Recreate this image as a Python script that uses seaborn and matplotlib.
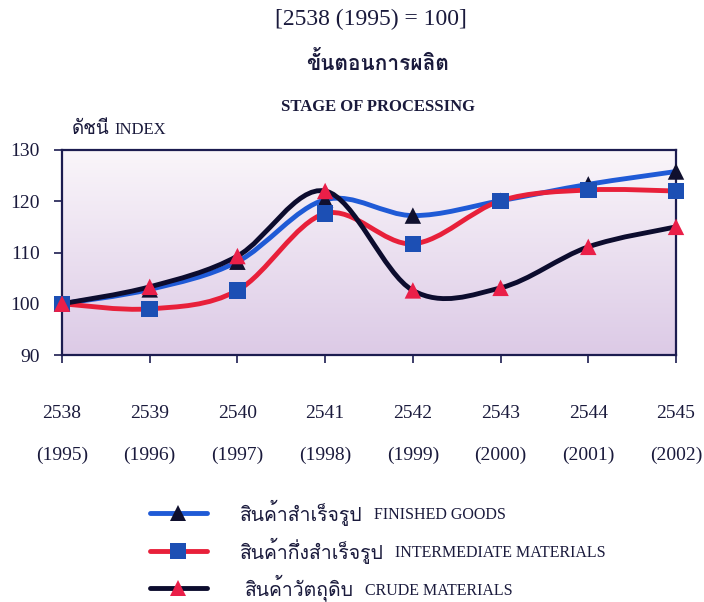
import numpy as np
import pandas as pd
import matplotlib
matplotlib.use("Agg")
import matplotlib.pyplot as plt
import matplotlib.font_manager as fm
from matplotlib.path import Path
from matplotlib.patches import PathPatch
from matplotlib.lines import Line2D
import matplotlib.colors as mcolors
import seaborn as sns
from fontTools.ttLib import TTFont

# Data
years_be = ["2538", "2539", "2540", "2541", "2542", "2543", "2544", "2545"]
years_ce = ["(1995)", "(1996)", "(1997)", "(1998)", "(1999)", "(2000)", "(2001)", "(2002)"]
finished = [100.0, 102.8, 108.2, 120.3, 117.2, 120.1, 123.3, 125.8]
intermediate = [100.0, 99.0, 102.6, 117.6, 111.7, 120.1, 122.2, 122.0]
crude = [100.0, 103.3, 109.3, 122.0, 102.6, 103.1, 111.1, 115.0]


# find a font that has Thai glyphs (prefer one with a bold face)
def find_thai_font():
    found = {}
    for f in fm.fontManager.ttflist:
        try:
            cmap = TTFont(f.fname, fontNumber=0, lazy=True).getBestCmap()
        except Exception:
            continue
        if cmap and 0x0E2A in cmap and 0x0E49 in cmap:
            w = f.weight if isinstance(f.weight, int) else 400
            found.setdefault(f.name, set()).add(w)
    if not found:
        return "DejaVu Sans"
    bold = [n for n, ws in found.items() if max(ws) >= 600]
    for pref in ["Norasi", "Noto Serif Thai", "Tlwg Typo", "Loma", "Garuda", "Noto Sans Thai"]:
        if pref in bold:
            return pref
    if bold:
        return bold[0]
    return list(found)[0]


sns.set_style("white")
thai = find_thai_font()
plt.rcParams["font.family"] = ["Liberation Serif", thai, "DejaVu Sans"]
txt_col = "#1a1a3c"
plt.rcParams["text.color"] = txt_col
plt.rcParams["xtick.color"] = txt_col
plt.rcParams["ytick.color"] = txt_col

df = pd.DataFrame({
    "x": list(range(len(years_be))) * 3,
    "value": finished + intermediate + crude,
    "series": ["finished"] * 8 + ["intermediate"] * 8 + ["crude"] * 8,
})

fig = plt.figure(figsize=(7.04, 6.02), dpi=100)
ax = fig.add_axes([62 / 704, 1 - 355 / 602, 614 / 704, 205 / 602])

# gradient background, light at top, lavender at bottom
grad = np.linspace(0, 1, 256).reshape(-1, 1)
cmap = mcolors.LinearSegmentedColormap.from_list("bg", ["#faf6fa", "#dccae6"])
ax.imshow(grad, extent=[0, 7, 90, 130], origin="upper", aspect="auto", cmap=cmap, zorder=0)


# smoothed line like a spreadsheet chart
def smooth_path(xs, ys):
    pts = np.column_stack([xs, ys]).astype(float)
    verts = [tuple(pts[0])]
    codes = [Path.MOVETO]
    n = len(pts)
    for i in range(n - 1):
        p0 = pts[i - 1] if i > 0 else pts[i]
        p1 = pts[i]
        p2 = pts[i + 1]
        p3 = pts[i + 2] if i + 2 < n else pts[i + 1]
        c1 = p1 + (p2 - p0) / 6
        c2 = p2 - (p3 - p1) / 6
        verts += [tuple(c1), tuple(c2), tuple(p2)]
        codes += [Path.CURVE4] * 3
    return Path(verts, codes)


line_specs = [
    ("finished", "#1f5ad6"),
    ("intermediate", "#e8203a"),
    ("crude", "#0c0c2e"),
]
for name, col in line_specs:
    sub = df[df["series"] == name]
    patch = PathPatch(smooth_path(sub["x"], sub["value"]), facecolor="none",
                      edgecolor=col, lw=3.5, zorder=3, capstyle="round")
    ax.add_patch(patch)

marker_specs = [
    ("finished", "^", "#10102e"),
    ("intermediate", "s", "#1c4fb4"),
    ("crude", "^", "#ea1f48"),
]
for name, mk, col in marker_specs:
    sns.scatterplot(data=df[df["series"] == name], x="x", y="value", marker=mk,
                    color=col, s=140, edgecolor="none", ax=ax, zorder=5, legend=False)
for coll in ax.collections:
    coll.set_clip_on(False)

ax.set_xlim(0, 7)
ax.set_ylim(90, 130)
ax.set_xlabel("")
ax.set_ylabel("")

for sp in ax.spines.values():
    sp.set_color("#1c1c50")
    sp.set_linewidth(1.6)

ax.set_yticks([90, 100, 110, 120, 130])
ax.tick_params(axis="y", length=6, width=1.2, color="#1c1c50", pad=10, labelsize=14)
ax.set_xticks(range(8))
ax.set_xticklabels(years_be)
ax.tick_params(axis="x", length=6, width=1.2, color="#1c1c50", pad=30, labelsize=14)
ax.tick_params(left=True, bottom=True)
for i, lab in enumerate(years_ce):
    ax.text(i, -0.49, lab, transform=ax.get_xaxis_transform(), ha="center",
            va="center", fontsize=14)

# titles
fig.text(371 / 704, 1 - 19 / 602, "[2538 (1995) = 100]", ha="center", va="center", fontsize=17)
fig.text(378 / 704, 1 - 64 / 602, "ขั้นตอนการผลิต", ha="center", va="center",
         fontsize=15, fontweight="bold")
fig.text(378 / 704, 1 - 107 / 602, "STAGE OF PROCESSING", ha="center", va="center",
         fontsize=12, fontweight="bold")
t = fig.text(72 / 704, 1 - 130 / 602, "ดัชนี", ha="left", va="center", fontsize=13.5)
ax.annotate("INDEX", xy=(1, 0), xycoords=t, xytext=(3, 0), textcoords="offset points",
            ha="left", va="bottom", fontsize=12)

# legend
leg_rows = [
    ("สินค้าสำเร็จรูป", "FINISHED GOODS", "#1f5ad6", "^", "#10102e", 513, 240),
    ("สินค้ากึ่งสำเร็จรูป", "INTERMEDIATE MATERIALS", "#e8203a", "s", "#1c4fb4", 551, 240),
    ("สินค้าวัตถุดิบ", "CRUDE MATERIALS", "#0c0c2e", "^", "#ea1f48", 588, 245),
]
for th, en, lc, mk, mc, yp, xt in leg_rows:
    yf = 1 - yp / 602
    fig.add_artist(Line2D([150 / 704, 207 / 704], [yf, yf], color=lc, lw=3.5,
                          transform=fig.transFigure))
    fig.add_artist(Line2D([178 / 704], [yf], marker=mk, color=mc, markersize=11,
                          markeredgewidth=0, transform=fig.transFigure))
    tt = fig.text(xt / 704, yf, th, ha="left", va="center", fontsize=14)
    ax.annotate(en, xy=(1, 0), xycoords=tt, xytext=(8, 2), textcoords="offset points",
                ha="left", va="bottom", fontsize=11.5)

fig.savefig("out.png", dpi=100, facecolor="white")
